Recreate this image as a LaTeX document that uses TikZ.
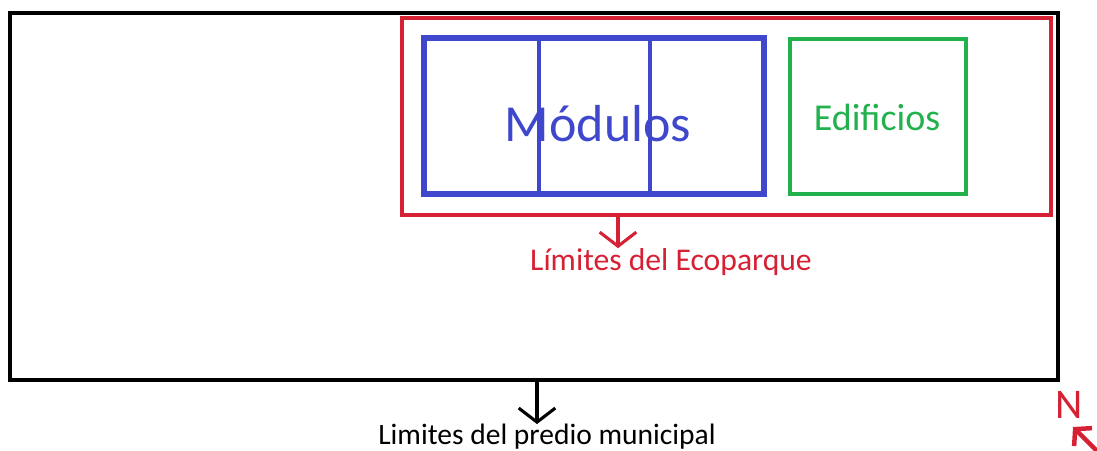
\documentclass[tikz,border=0pt]{standalone}
\usepackage{fontspec}
\setmainfont{Carlito}
\usetikzlibrary{arrows.meta,positioning}
\definecolor{PaintRed}{RGB}{214,32,52}
\definecolor{PaintBlue}{RGB}{63,72,204}
\definecolor{PaintGreen}{RGB}{34,177,76}

\begin{document}
\begin{tikzpicture}[x=0.025cm, y=-0.025cm,
	limite/.style={line width=3pt},
	flecha/.style={line width=2.2pt, -{Straight Barb[length=10pt, width=26pt, line width=2.2pt]}},
	etiqueta/.style={inner sep=0pt, font=\fontsize{21}{24}\selectfont}]
	\useasboundingbox (0,0) rectangle (1097,451);
	
	% predio municipal
	\draw[limite, black] (10,13) rectangle (1058,380);
	% ecoparque
	\draw[limite, PaintRed] (402,18) rectangle (1051,215);
	% modulos
	\draw[line width=3.8pt, PaintBlue] (424,38) rectangle (764,194);
	\draw[line width=2.4pt, PaintBlue] (539,38) -- (539,194);
	\draw[line width=2.4pt, PaintBlue] (650,38) -- (650,194);
	\node[PaintBlue, inner sep=0pt, font=\fontsize{37}{40}\selectfont] (modulos) at (598,124) {Módulos};
	% edificios
	\draw[line width=2.8pt, PaintGreen] (790,39) rectangle (966,194);
	\node[PaintGreen, inner sep=0pt, font=\fontsize{27}{30}\selectfont] (edificios) at (877,117) {Edificios};
	
	% etiquetas
	\coordinate (eco-s) at (618,215);
	\node[etiqueta, PaintRed, font=\fontsize{22.5}{26}\selectfont] (ecotexto) at (671,262) {Límites del Ecoparque};
	\draw[flecha, PaintRed] (eco-s) -- (eco-s |- ecotexto.north);
	
	\coordinate (predio-s) at (537,380);
	\node[etiqueta] (prediotexto) at (547,437) {Limites del predio municipal};
	\draw[flecha, black] (predio-s) -- (predio-s |- prediotexto.north);
	
	% norte
	\node[PaintRed, inner sep=0pt, font=\fontsize{30}{32}\selectfont] (norte) at (1069,405) {N};
	\coordinate (norte-c) at (1097,451);
	\draw[PaintRed, line width=3.2pt, -{Straight Barb[length=8pt, width=18pt, line width=3.2pt]}] (norte-c) -- (1073,427);
\end{tikzpicture}
\end{document}
